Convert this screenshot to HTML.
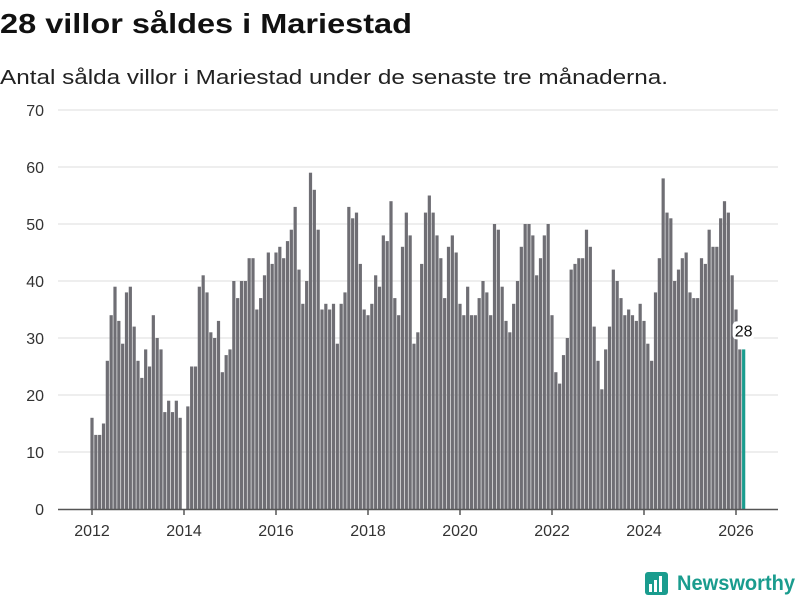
<!DOCTYPE html>
<html><head><meta charset="utf-8"><style>
body{margin:0;background:#fff;}
svg{display:block;font-family:"Liberation Sans",sans-serif;}
</style></head><body>
<svg id="chart" width="800" height="600" viewBox="0 0 800 600">
<text x="0" y="33" font-size="28" font-weight="bold" fill="#111" textLength="412" lengthAdjust="spacingAndGlyphs">28 villor såldes i Mariestad</text>
<text x="0" y="84" font-size="20" fill="#222" textLength="668" lengthAdjust="spacingAndGlyphs">Antal sålda villor i Mariestad under de senaste tre månaderna.</text>
<g id="grid"></g>
<g id="bars"></g>
<g id="xaxis"></g>
<g id="lbl"></g>
<g>
<rect x="645" y="572" width="23" height="23" rx="3" fill="#1a9c8e"/>
<rect x="649" y="584" width="3" height="8" fill="#fff"/><rect x="654" y="580" width="3" height="12" fill="#fff"/><rect x="659" y="576" width="3" height="16" fill="#fff"/>
<text x="677" y="590" font-size="21" font-weight="bold" fill="#1a9c8e" textLength="118" lengthAdjust="spacingAndGlyphs">Newsworthy</text>
</g>
</svg>
<script>
const startYear = 2012;
const values = [
16,13,13,15,26,34,39,33,29,38,39,32,
26,23,28,25,34,30,28,17,19,17,19,16,
0,18,25,25,39,41,38,31,30,33,24,27,
28,40,37,40,40,44,44,35,37,41,45,43,
45,46,44,47,49,53,42,36,40,59,56,49,
35,36,35,36,29,36,38,53,51,52,43,35,
34,36,41,39,48,47,54,37,34,46,52,48,
29,31,43,52,55,52,48,44,37,46,48,45,
36,34,39,34,34,37,40,38,34,50,49,39,
33,31,36,40,46,50,50,48,41,44,48,50,
34,24,22,27,30,42,43,44,44,49,46,32,
26,21,28,32,42,40,37,34,35,34,33,36,
33,29,26,38,44,58,52,51,40,42,44,45,
38,37,37,44,43,49,46,46,51,54,52,41,
35,28,28];
const yTicks = [0,10,20,30,40,50,60,70];
const xTicks = [2012,2014,2016,2018,2020,2022,2024,2026];
const NS="http://www.w3.org/2000/svg";
const x = k => 92 + k*46/12;
const y = v => 509 - v*399/70;
function mk(tag, attrs, parent){const e=document.createElementNS(NS,tag);for(const a in attrs)e.setAttribute(a,attrs[a]);parent.appendChild(e);return e;}
const grid=document.getElementById('grid');
yTicks.forEach(t=>{
  if(t>0){const l=mk('line',{x1:58,x2:778,y1:y(t),y2:y(t),stroke:'#ddd','stroke-width':1},grid);
  
  }
  const tx=mk('text',{x:44,y:y(t)+6,'font-size':16,fill:'#333','text-anchor':'end'},grid);
  
  
  tx.textContent=t;
});
const bars=document.getElementById('bars');
values.forEach((v,k)=>{
  const last=k===values.length-1;
  const r=mk('rect',{x:x(k)-1.6,y:y(v),width:3.2,height:509-y(v),fill:last?'#1a9c8e':'#6f6e74'},bars);
  
  
});
const xa=document.getElementById('xaxis');
const base=mk('line',{x1:58,x2:778,y1:509.5,y2:509.5,stroke:'#555','stroke-width':1.5},xa);


xTicks.forEach(yr=>{
  const k=(yr-startYear)*12;
  const t=mk('line',{x1:x(k),x2:x(k),y1:509,y2:515,stroke:'#555','stroke-width':1.5},xa);
  
  
  const tx=mk('text',{x:x(k),y:536,'font-size':16,fill:'#333','text-anchor':'middle'},xa);
  
  
  tx.textContent=yr;
});
const lbl=document.getElementById('lbl');
const lk=values.length-1, lv=values[lk];
const bg=mk('rect',{x:x(lk)-11,y:y(lv)-28,width:22,height:18,rx:4,fill:'#fff'},lbl);


const lt=mk('text',{x:x(lk),y:y(lv)-13,'font-size':16,fill:'#111','text-anchor':'middle'},lbl);


lt.textContent=lv;
</script>
</body></html>
